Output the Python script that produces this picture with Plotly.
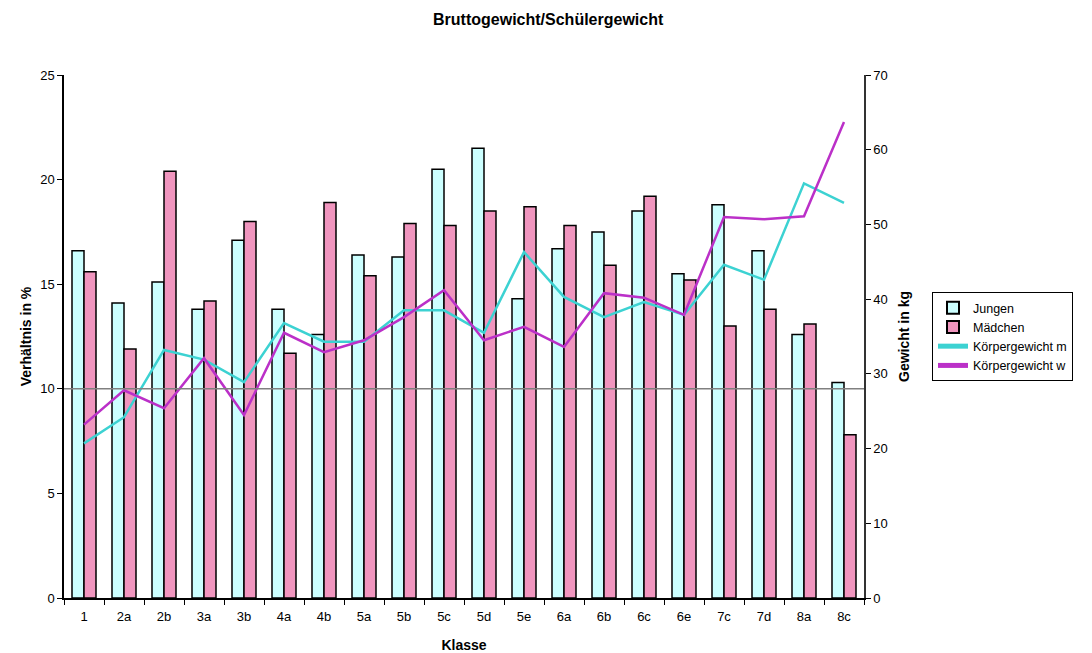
import plotly.graph_objects as go

klassen = ["1", "2a", "2b", "3a", "3b", "4a", "4b", "5a", "5b", "5c",
           "5d", "5e", "6a", "6b", "6c", "6e", "7c", "7d", "8a", "8c"]
jungen = [16.6, 14.1, 15.1, 13.8, 17.1, 13.8, 12.6, 16.4, 16.3, 20.5,
          21.5, 14.3, 16.7, 17.5, 18.5, 15.5, 18.8, 16.6, 12.6, 10.3]
maedchen = [15.6, 11.9, 20.4, 14.2, 18.0, 11.7, 18.9, 15.4, 17.9, 17.8,
            18.5, 18.7, 17.8, 15.9, 19.2, 15.2, 13.0, 13.8, 13.1, 7.8]
gewicht_m = [20.7, 24.2, 33.2, 31.9, 28.9, 36.8, 34.3, 34.3, 38.5, 38.5,
             35.5, 46.3, 40.3, 37.6, 39.6, 37.9, 44.6, 42.6, 55.5, 52.9]
gewicht_w = [23.2, 27.8, 25.4, 32.1, 24.5, 35.5, 32.9, 34.5, 37.6, 41.2,
             34.5, 36.3, 33.6, 40.8, 40.2, 37.9, 51.0, 50.7, 51.1, 63.7]
ref_line = 10

FONT = "Liberation Sans, Arial, sans-serif"

fig = go.Figure()
fig.add_trace(go.Bar(x=klassen, y=jungen, name="Jungen",
                     marker=dict(color="#CCFFFF", line=dict(color="black", width=1.5))))
fig.add_trace(go.Bar(x=klassen, y=maedchen, name="Mädchen",
                     marker=dict(color="#F095BE", line=dict(color="black", width=1.5))))
fig.add_trace(go.Scatter(x=klassen, y=gewicht_m, name="Körpergewicht m", yaxis="y2",
                         mode="lines", line=dict(color="#3CD2D2", width=2.5)))
fig.add_trace(go.Scatter(x=klassen, y=gewicht_w, name="Körpergewicht w", yaxis="y2",
                         mode="lines", line=dict(color="#BB30C8", width=2.5)))

fig.add_shape(type="line", xref="paper", yref="y", x0=0, x1=1, y0=ref_line, y1=ref_line,
              line=dict(color="#808080", width=1.5), layer="above")

fig.update_layout(
    width=1092, height=653,
    margin=dict(l=64, r=228, t=75, b=55, autoexpand=False),
    paper_bgcolor="white", plot_bgcolor="white",
    font=dict(family=FONT, size=13, color="black"),
    title=dict(text="<b>Bruttogewicht/Schülergewicht</b>", x=0.502, xanchor="center",
               y=0.97, yanchor="middle", font=dict(size=16)),
    barmode="group", bargap=0.4, bargroupgap=0.0,
    xaxis=dict(type="category", showline=True, linecolor="black", linewidth=1.5,
               ticks="outside", tickson="boundaries", ticklen=5, tickcolor="black",
               ticklabelstandoff=6,
               showgrid=False, automargin=False,
               title=dict(text="<b>Klasse</b>", font=dict(size=14), standoff=18)),
    yaxis=dict(range=[0, 25], dtick=5, showline=True, linecolor="black", linewidth=1.5,
               ticks="outside", ticklen=5, tickcolor="black", showgrid=False, zeroline=False,
               automargin=False,
               title=dict(text="<b>Verhältnis in %</b>", font=dict(size=14), standoff=5)),
    yaxis2=dict(range=[0, 70], dtick=10, overlaying="y", side="right", showline=True,
                linecolor="#333333", linewidth=1.5, ticks="outside", ticklen=5,
                tickcolor="black", showgrid=False, zeroline=False, automargin=False,
                title=dict(text="<b>Gewicht in kg</b>", font=dict(size=14), standoff=12)),
    legend=dict(x=1.085, y=0.585, xanchor="left", yanchor="top",
                bordercolor="black", borderwidth=1, bgcolor="white",
                font=dict(size=12.5), tracegroupgap=0, itemsizing="constant",
                itemwidth=30),
    showlegend=True,
)

fig.write_html("out.html")
